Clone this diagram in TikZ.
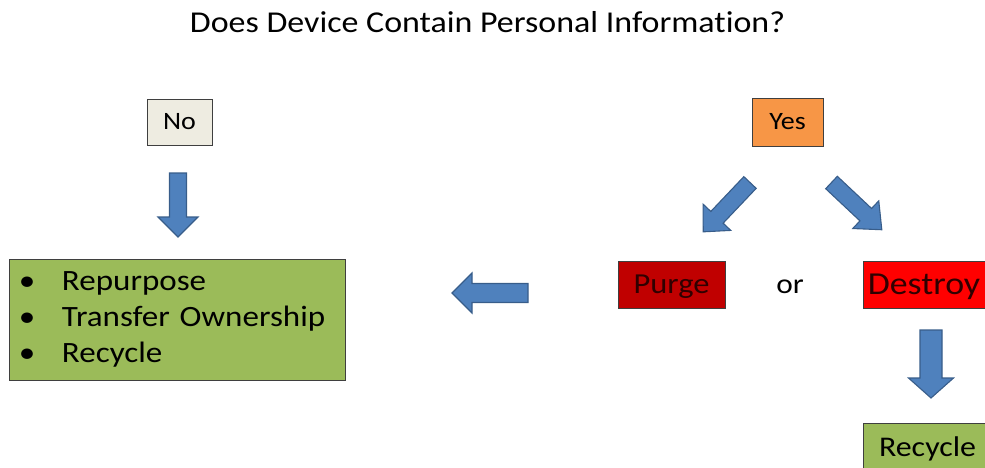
\documentclass[tikz,border=0pt]{standalone}
\usepackage{fontspec}
\setmainfont{Carlito}[FakeStretch=1.12, Ligatures=NoCommon]
\usepackage{array}
\definecolor{boxline}{HTML}{3F3F3F}
\definecolor{tanbg}{HTML}{EEECE1}
\definecolor{orangeY}{HTML}{F79646}
\definecolor{greenG}{HTML}{9BBB59}
\definecolor{purgeR}{HTML}{C00000}
\definecolor{destroyR}{HTML}{FF0000}
\definecolor{arrowF}{HTML}{4F81BD}
\definecolor{arrowD}{HTML}{385D8A}
\definecolor{darkredtext}{HTML}{300000}
\newcommand\blockarrow[7]{% tail x, tail y, angle, length, shaft width, head width, head length
  \draw[barrow, shift={(#1,#2)}, rotate=#3]
    (0,{#5/2}) -- ({#4-#7},{#5/2}) -- ({#4-#7},{#6/2}) -- (#4,0)
    -- ({#4-#7},{-#6/2}) -- ({#4-#7},{-#5/2}) -- (0,{-#5/2}) -- cycle;}
\tikzset{
  barrow/.style={fill=arrowF, draw=arrowD, line width=1.1pt, line join=miter},
  box/.style={draw=boxline, line width=1pt, inner sep=0pt, align=center},
  smallbox/.style={box, font=\fontsize{25}{30}\selectfont, text height=15.8pt, text depth=0pt},
  redbox/.style={box, text=darkredtext, minimum height=47, text depth=0pt},
}
\begin{document}
\begin{tikzpicture}[x=1pt, y=-1pt]
\useasboundingbox (0,0) rectangle (985,467);
\node[anchor=base, font=\fontsize{30.3}{36}\selectfont] (title) at (487.5,32) {Does Device Contain Personal Information?};
\node[smallbox, fill=tanbg, minimum width=65, minimum height=46] (no) at (179.5,122) {No};
\node[smallbox, fill=orangeY, minimum width=71, minimum height=48] (yes) at (787.5,122) {Yes};
\node[redbox, fill=purgeR, minimum width=107, font=\fontsize{29}{34}\selectfont, text height=18.3pt] (purge) at (671.5,284.5) {Purge};
\node[anchor=base, font=\fontsize{28}{34}\selectfont] (or) at (790,293) {or};
\node[redbox, fill=destroyR, minimum width=122, font=\fontsize{32}{38}\selectfont, text height=20.2pt] (destroy) at (924,284.5) {Destroy};
\node[box, fill=greenG, minimum width=129, minimum height=48, font=\fontsize{28.5}{34}\selectfont, text height=18pt, text depth=0pt] (recycle) at (927.5,447) {Recycle};
\node[box, fill=greenG, minimum width=336, minimum height=121, text width=316, inner xsep=10pt, align=left, font=\fontsize{29.5}{36}\selectfont] (list) at (177,319.5)
  {\begin{tabular}{@{}p{43pt}@{}l@{}}\textbullet & Repurpose\\ \textbullet & Transfer Ownership\\ \textbullet & Recycle\end{tabular}};
\blockarrow{178}{173}{-90}{64}{17}{40}{20}
\blockarrow{528}{293}{180}{76}{19}{40}{20}
\blockarrow{750}{182.5}{-133.5}{68}{17}{38}{20}
\blockarrow{831.5}{182.5}{-43.2}{69}{17}{38}{22}
\blockarrow{931}{330}{-90}{68}{22}{45}{20}
\end{tikzpicture}
\end{document}
